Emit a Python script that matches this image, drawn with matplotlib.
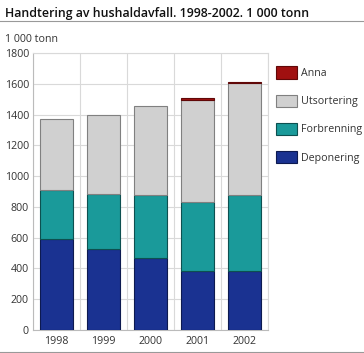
import matplotlib
matplotlib.use("Agg")
import matplotlib.pyplot as plt
import numpy as np

years = ["1998", "1999", "2000", "2001", "2002"]
deponering = [590, 525, 470, 385, 385]
forbrenning = [320, 360, 405, 445, 490]
utsortering = [460, 515, 580, 665, 730]
anna = [0, 0, 0, 10, 5]

series = [
    ("Deponering", deponering, "#1a3291", "#0d1a50"),
    ("Forbrenning", forbrenning, "#1a9a9a", "#0d5050"),
    ("Utsortering", utsortering, "#d0d0d0", "#808080"),
    ("Anna", anna, "#a01010", "#600808"),
]

plt.rcParams['font.family'] = ['Open Sans', 'DejaVu Sans']

fig = plt.figure(figsize=(3.64, 3.53), dpi=100)
ax = fig.add_axes([33 / 364, 1 - 330 / 353, 235 / 364, 277 / 353])

x = np.arange(len(years))
bottom = np.zeros(len(years))
handles = []
for name, vals, col, edge in series:
    lws = [0.8 if v > 0 else 0 for v in vals]
    b = ax.bar(x, vals, 0.7, bottom=bottom, color=col, edgecolor=edge,
               linewidth=lws, label=name, zorder=3)
    handles.append(b)
    bottom += np.array(vals)

ax.set_xlim(-0.5, len(years) - 0.5)
ax.set_ylim(0, 1800)
ax.set_yticks(range(0, 1801, 200))
ax.set_xticks(x)
ax.set_xticklabels(years)
ax.set_xticks(np.arange(-0.5, len(years), 1), minor=True)
ax.grid(axis='y', color='#d9d9d9', linewidth=0.8, zorder=0)
ax.grid(axis='x', which='minor', color='#d9d9d9', linewidth=0.8, zorder=0)
ax.tick_params(axis='both', which='both', length=0, labelsize=7.7, colors='#333333')
ax.tick_params(axis='y', pad=3)
ax.tick_params(axis='x', pad=4)
for s in ax.spines.values():
    s.set_color('#d9d9d9')
    s.set_linewidth(0.8)
ax.spines['left'].set_color('#bbbbbb')
ax.spines['bottom'].set_color('#bbbbbb')

fig.text(5 / 364, 1 - 13 / 353, "Handtering av hushaldavfall. 1998-2002. 1 000 tonn",
         fontsize=8.9, fontweight='semibold', va='center', ha='left', color='#111111')
fig.add_artist(plt.Line2D([0, 1], [1 - 21 / 353] * 2, color='#999999', linewidth=0.8))
fig.add_artist(plt.Line2D([0, 1], [1 - 351.5 / 353] * 2, color='#999999', linewidth=0.8))
fig.text(5 / 364, 1 - 40 / 353, "1 000 tonn", fontsize=7.7, va='center', ha='left', color='#333333')

leg = fig.legend([h.patches[-1] if i == 3 else h for i, h in enumerate(handles)][::-1],
                 [s[0] for s in series][::-1],
                 loc='upper left', bbox_to_anchor=(272 / 364, 1 - 62 / 353),
                 frameon=False, fontsize=7.7, handlelength=1.9, handleheight=1.4,
                 labelspacing=1.45, handletextpad=0.4, borderaxespad=0)
for t in leg.get_texts():
    t.set_color('#333333')

fig.savefig("out.png", dpi=100)
